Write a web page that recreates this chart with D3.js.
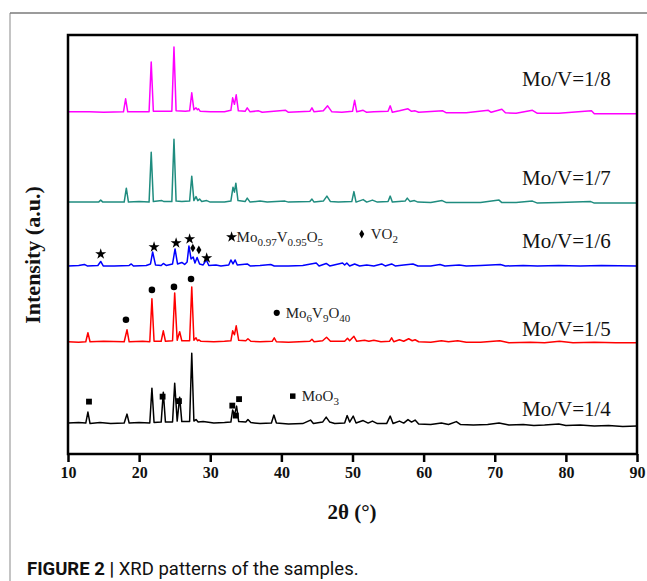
<!DOCTYPE html>
<html>
<head>
<meta charset="utf-8">
<script src="https://cdn.jsdelivr.net/npm/d3@7"></script>
<style>
  body { margin: 0; background: #fff; }
  svg { display: block; }
</style>
</head>
<body>
<div id="chart"></div>
<script>

// ---- data (2theta in degrees, intensity in a.u.) ----
var sampleNames = ["Mo/V=1/4", "Mo/V=1/5", "Mo/V=1/6", "Mo/V=1/7", "Mo/V=1/8"];
var offsets = [620, 2250, 3770, 5050, 6860];
var xTicks = [10, 20, 30, 40, 50, 60, 70, 80, 90];

var xrd14 = [[10,0],[11.5,10],[12.5,0],[12.8,220],[13.1,-10],[14.5,10],[16,-10],[17.9,0],[18.3,180],[18.6,0],[20,10],[21.5,0],[21.8,700],[22.1,10],[23.1,20],[23.4,620],[23.7,20],[24.7,20],[25.0,800],[25.35,40],[25.7,520],[26.0,30],[27.1,30],[27.4,1400],[27.7,40],[28.0,70],[28.3,20],[29.0,30],[30.5,0],[32.0,10],[32.9,20],[33.15,260],[33.4,160],[33.7,340],[34.0,30],[35.0,20],[35.3,70],[35.7,10],[37,-10],[38.6,0],[38.95,160],[39.3,0],[41,-20],[43,-10],[44.1,60],[44.5,-10],[45.8,20],[46.3,120],[46.8,20],[47.5,-10],[48.9,0],[49.25,150],[49.6,20],[50.1,140],[50.5,0],[51.5,50],[52.2,0],[52.8,40],[53.5,-10],[54.8,-10],[55.3,140],[55.7,-10],[56.6,40],[57.2,0],[57.8,70],[58.3,20],[58.8,60],[59.3,-20],[61,-30],[62.5,0],[63.5,-30],[64.6,30],[65.2,-30],[67,-40],[69,-30],[70.6,0],[72,-40],[74,-30],[75.5,-50],[77,-40],[79,-20],[80,-50],[82,-40],[84,-60],[86,-50],[88,-70],[90,-60]];

var xrd15 = [[10,0],[11.5,-10],[12.5,0],[12.8,180],[13.1,0],[15,10],[17.9,0],[18.3,240],[18.6,0],[20.5,10],[21.5,0],[21.8,860],[22.1,10],[23.1,10],[23.4,220],[23.7,10],[24.7,20],[25.0,980],[25.35,30],[25.7,200],[26.0,20],[27.1,20],[27.4,1100],[27.7,30],[28.0,80],[28.2,20],[28.4,40],[28.7,10],[30.5,0],[32,10],[32.9,20],[33.15,220],[33.4,140],[33.65,320],[34.0,30],[35.0,20],[35.3,60],[35.7,10],[37,0],[38.7,10],[39.0,80],[39.3,0],[41,-10],[44.0,10],[44.3,50],[44.6,0],[45.8,20],[46.35,90],[46.9,10],[48.9,10],[49.3,70],[49.6,20],[50.2,110],[50.6,10],[51.7,30],[52.3,10],[53.0,30],[54,0],[55.2,10],[55.5,80],[55.8,0],[56.6,40],[57.2,10],[57.9,60],[58.4,20],[58.8,40],[59.3,0],[61,-10],[62.5,20],[63.5,0],[64.8,20],[66,-10],[68,-10],[70.7,20],[72,-20],[75,-10],[77,-20],[79.1,10],[81,-20],[84,-10],[87,-20],[90,-20]];

var xrd16 = [[10,0],[11.5,10],[12.3,30],[12.7,0],[14.2,10],[14.6,90],[14.95,0],[16.5,0],[18.6,10],[18.9,40],[19.2,0],[21.0,10],[21.6,40],[21.9,280],[22.3,20],[23.1,10],[23.4,50],[23.8,10],[24.7,40],[25.05,340],[25.4,40],[26.0,70],[26.4,30],[26.75,80],[27.0,400],[27.3,140],[27.6,180],[27.85,60],[28.15,170],[28.5,40],[29.0,20],[29.45,120],[29.8,10],[30.8,20],[31.5,0],[32.6,20],[32.9,120],[33.2,40],[33.5,120],[33.8,20],[35.2,40],[35.6,0],[37,10],[38.5,30],[39,0],[41,0],[43,10],[44.9,60],[45.3,0],[46.3,50],[46.8,0],[48.6,60],[48.9,20],[49.2,60],[49.6,0],[50.3,40],[51,0],[52,20],[53,0],[54.1,40],[54.6,0],[55.5,40],[56,0],[57.2,20],[58.5,40],[59.2,0],[61,0],[62.3,30],[63,0],[65,20],[66,0],[68,10],[70.8,30],[71.5,0],[74,10],[76,0],[79,10],[82,0],[85,10],[90,0]];

var xrd17 = [[10,0],[12,0],[14.3,0],[14.6,40],[14.9,0],[16.5,0],[17.9,0],[18.2,280],[18.5,0],[20,10],[21.4,0],[21.7,1000],[22.0,10],[23.2,30],[23.5,10],[24.6,10],[24.9,1260],[25.2,20],[26.0,10],[27.1,20],[27.4,520],[27.7,30],[28.0,110],[28.25,30],[28.5,60],[28.8,10],[29.5,30],[30,0],[32,0],[32.9,20],[33.2,300],[33.4,200],[33.6,380],[33.9,30],[34.9,10],[35.2,80],[35.6,0],[37,20],[38,0],[40.5,20],[41,0],[44.0,10],[44.3,60],[44.6,0],[45.9,20],[46.4,120],[46.9,10],[48,0],[49.9,10],[50.2,210],[50.5,0],[51.5,50],[52,0],[52.8,40],[53.5,0],[55.0,10],[55.3,120],[55.6,0],[57.4,20],[57.7,80],[58.1,10],[58.7,30],[59.2,0],[61,-10],[62.6,30],[63.2,-10],[66,-10],[68,-10],[70.6,40],[71,-10],[73,-10],[75.3,20],[76,-20],[79,-10],[83.5,10],[84,-20],[87,-20],[90,-20]];

var xrd18 = [[10,0],[13,0],[15,-10],[17.8,0],[18.1,260],[18.4,0],[20,0],[21.4,0],[21.7,1000],[22.0,10],[23.2,10],[24.6,10],[24.9,1300],[25.2,20],[26.5,10],[27.1,20],[27.4,380],[27.7,40],[28.0,80],[28.2,40],[28.35,60],[28.6,10],[30,0],[32,0],[32.9,30],[33.15,280],[33.4,150],[33.65,340],[33.95,20],[34.9,10],[35.2,80],[35.6,0],[36.8,20],[37.3,-10],[40.6,30],[41,-10],[44.0,10],[44.3,80],[44.6,0],[45.9,20],[46.5,120],[47.1,0],[48.5,-10],[50.0,10],[50.3,230],[50.6,0],[51.5,30],[52,-10],[53,0],[55.0,10],[55.3,120],[55.6,-10],[56.6,20],[57.8,60],[58.3,10],[58.8,20],[59.3,-10],[62.7,20],[63.2,-20],[66,-20],[69.1,30],[69.5,-10],[71.0,50],[71.5,-20],[73,-30],[75.3,30],[76,-30],[79,-30],[83.6,20],[84,-40],[87,-40],[90,-40]];

var patterns = [xrd14, xrd15, xrd16, xrd17, xrd18];

// phase marks [2theta, intensity]
var moo3Marks = [[12.95,1050],[23.3,1150],[25.6,1060],[33.1,970],[34.05,1100],[33.6,770]];
var mo6v9o40Marks = [[18.15,2690],[21.8,3290],[24.9,3350],[27.3,3510]];
var mo097Marks = [[14.6,4010],[22.1,4150],[25.2,4230],[27.1,4310],[29.5,3930]];
var vo2Marks = [[27.55,4130],[28.4,4090]];

// key entries: formula pieces, [text, isSubscript]
var keyNames = [
  [["Mo",0],["0.97",1],["V",0],["0.95",1],["O",0],["5",1]],
  [["VO",0],["2",1]],
  [["Mo",0],["6",1],["V",0],["9",1],["O",0],["40",1]],
  [["MoO",0],["3",1]]
];
var keyPos = [[33.0,4350],[51.3,4410],[39.35,2830],[41.6,1160]];

// ---- layout ----
let width = 647, height = 581;
let margin = {top: 35, right: 637, bottom: 454, left: 68};
var colors = ["#000000", "#ff0000", "#0000ff", "#1f8c7f", "#ff00ff"];
var serif = "'Liberation Serif', 'Times New Roman', serif";

var svg = d3.select("#chart")
.append("svg")
.attr("width", width)
.attr("height", height)
.style("background", "#fff");

// outer figure frame
svg.append("line").attr("x1", 10).attr("x2", 10).attr("y1", 13).attr("y2", height)
.style("stroke", "#c4c4c4").style("stroke-width", 2);
svg.append("line").attr("x1", 10).attr("x2", width).attr("y1", 13).attr("y2", 13)
.style("stroke", "#7a7a7a").style("stroke-width", 1.5);

var x = d3.scaleLinear().domain([10, 90]).range([margin.left, margin.right]);
var y = d3.scaleLinear().domain([0, 8400]).range([margin.bottom, margin.top]);

// patterns
patterns.forEach(function(pat, i) {
  var line = d3.line()
  .x(function(d) { return x(d[0]); })
  .y(function(d) { return y(d[1] + offsets[i]); });
  svg.append("path")
  .datum(pat)
  .attr("d", line)
  .style("fill", "none")
  .style("stroke", colors[i])
  .style("stroke-width", 1.5)
  .style("stroke-linejoin", "round");
});

// sample labels
var labelShift = [-7, -6, -18, -17, -26];
svg.selectAll(".sample")
.data(sampleNames)
.enter().append("text")
.attr("class", "sample")
.attr("x", 522)
.attr("y", function(d, i) { return y(offsets[i]) + labelShift[i]; })
.style("font-family", serif)
.style("font-size", "21px")
.style("fill", "#111")
.text(function(d) { return d; });

// phase markers
function drawMarks(data, type, size) {
  svg.append("g")
  .selectAll("path")
  .data(data)
  .enter().append("path")
  .attr("transform", function(d) { return "translate(" + x(d[0]) + "," + y(d[1]) + ")"; })
  .attr("d", d3.symbol().type(type).size(size))
  .style("fill", "#000");
}
drawMarks(moo3Marks, d3.symbolSquare, 34);
drawMarks(mo6v9o40Marks, d3.symbolCircle, 34);
drawMarks(mo097Marks, d3.symbolStar, 38);
drawMarks(vo2Marks, d3.symbolDiamond, 22);

// phase key
var keyTypes = [d3.symbolStar, d3.symbolDiamond, d3.symbolCircle, d3.symbolSquare];
var keySizes = [38, 22, 30, 30];
keyNames.forEach(function(parts, k) {
  var kx = x(keyPos[k][0]), ky = y(keyPos[k][1]);
  svg.append("path")
  .attr("transform", "translate(" + kx + "," + ky + ")")
  .attr("d", d3.symbol().type(keyTypes[k]).size(keySizes[k]))
  .style("fill", "#000");
  var t = svg.append("text")
  .attr("x", kx + (k === 0 ? 5 : 9))
  .attr("y", ky + 5)
  .style("font-family", serif)
  .style("font-size", "15px")
  .style("fill", "#222");
  var sub = 0;
  parts.forEach(function(p) {
    var shift = p[1] ? 4 : 0;
    t.append("tspan")
    .attr("dy", shift - sub)
    .style("font-size", p[1] ? "11px" : "15px")
    .text(p[0]);
    sub = shift;
  });
});

// plot frame
svg.append("rect")
.attr("x", margin.left)
.attr("y", margin.top)
.attr("width", margin.right - margin.left)
.attr("height", margin.bottom - margin.top)
.style("fill", "none")
.style("stroke", "#000")
.style("stroke-width", 2.5);

// x axis
var xAxis = d3.axisBottom(x).tickValues(xTicks).tickSize(8).tickSizeOuter(0).tickPadding(5);
var gx = svg.append("g")
.attr("transform", "translate(0," + margin.bottom + ")")
.call(xAxis);
gx.select(".domain").remove();
gx.selectAll("line").style("stroke", "#000").style("stroke-width", 2.5);
gx.selectAll("text")
.style("font-family", serif)
.style("font-weight", "bold")
.style("font-size", "16px")
.style("fill", "#111");

// axis titles
svg.append("text")
.attr("x", 352)
.attr("y", 519)
.attr("text-anchor", "middle")
.style("font-family", serif)
.style("font-weight", "bold")
.style("font-size", "21px")
.style("fill", "#111")
.text("2θ (°)");

svg.append("text")
.attr("transform", "translate(40,255) rotate(-90)")
.attr("text-anchor", "middle")
.style("font-family", serif)
.style("font-weight", "bold")
.style("font-size", "22px")
.style("fill", "#111")
.text("Intensity (a.u.)");

// caption
var cap = svg.append("text")
.attr("x", 27)
.attr("y", 575)
.style("font-family", "Roboto, 'Liberation Sans', sans-serif")
.style("font-size", "18.5px")
.style("fill", "#111");
cap.append("tspan").style("font-weight", "bold").text("FIGURE 2 | ");
cap.append("tspan").text("XRD patterns of the samples.");

</script>
</body>
</html>
